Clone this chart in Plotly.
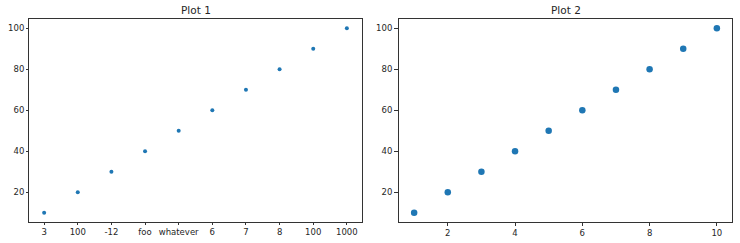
import plotly.graph_objects as go

x_labels = ["3", "100", "-12", "foo", "whatever", "6", "7", "8", "100", "1000"]
x_pos = [1, 2, 3, 4, 5, 6, 7, 8, 9, 10]
y_values = [10, 20, 30, 40, 50, 60, 70, 80, 90, 100]
y_ticks = [20, 40, 60, 80, 100]
x2_ticks = [2, 4, 6, 8, 10]

W, H = 740, 243
color = "#1f77b4"
font = dict(family="DejaVu Sans", size=8.5, color="#262626")

fig = go.Figure()
fig.add_trace(go.Scatter(x=x_pos, y=y_values, mode="markers",
                         marker=dict(color=color, size=4, line=dict(width=0)),
                         xaxis="x", yaxis="y", showlegend=False))
fig.add_trace(go.Scatter(x=x_pos, y=y_values, mode="markers",
                         marker=dict(color=color, size=6.5, line=dict(width=0)),
                         xaxis="x2", yaxis="y2", showlegend=False))

ydom = [(H - 222) / H, (H - 19) / H]
axis_common = dict(showgrid=False, zeroline=False, showline=True, linecolor="#333333",
                   linewidth=1, mirror=True, ticks="outside", tickcolor="#333333",
                   tickfont=font)

fig.update_layout(
    width=W, height=H,
    margin=dict(l=0, r=0, t=0, b=0),
    paper_bgcolor="white", plot_bgcolor="white",
    xaxis=dict(domain=[29 / W, 362 / W], range=[0.55, 10.45],
               tickmode="array", tickvals=x_pos, ticktext=x_labels,
               ticklen=2, anchor="y", **axis_common),
    yaxis=dict(domain=ydom, range=[5.5, 104.5], tickmode="array", tickvals=y_ticks,
               ticklen=2, anchor="x", **axis_common),
    xaxis2=dict(domain=[399 / W, 732 / W], range=[0.55, 10.45],
                tickmode="array", tickvals=x2_ticks, ticklen=3, anchor="y2", **axis_common),
    yaxis2=dict(domain=ydom, range=[5.5, 104.5], tickmode="array", tickvals=y_ticks,
                ticklen=4, anchor="x2", **axis_common),
    annotations=[
        dict(text="Plot 1", x=(29 + 362) / 2 / W, y=ydom[1], xref="paper", yref="paper",
             xanchor="center", yanchor="bottom", yshift=1, showarrow=False,
             font=dict(family="DejaVu Sans", size=10.5, color="#262626")),
        dict(text="Plot 2", x=(399 + 732) / 2 / W, y=ydom[1], xref="paper", yref="paper",
             xanchor="center", yanchor="bottom", yshift=1, showarrow=False,
             font=dict(family="DejaVu Sans", size=10.5, color="#262626")),
    ],
)

fig.write_html("out.html")
